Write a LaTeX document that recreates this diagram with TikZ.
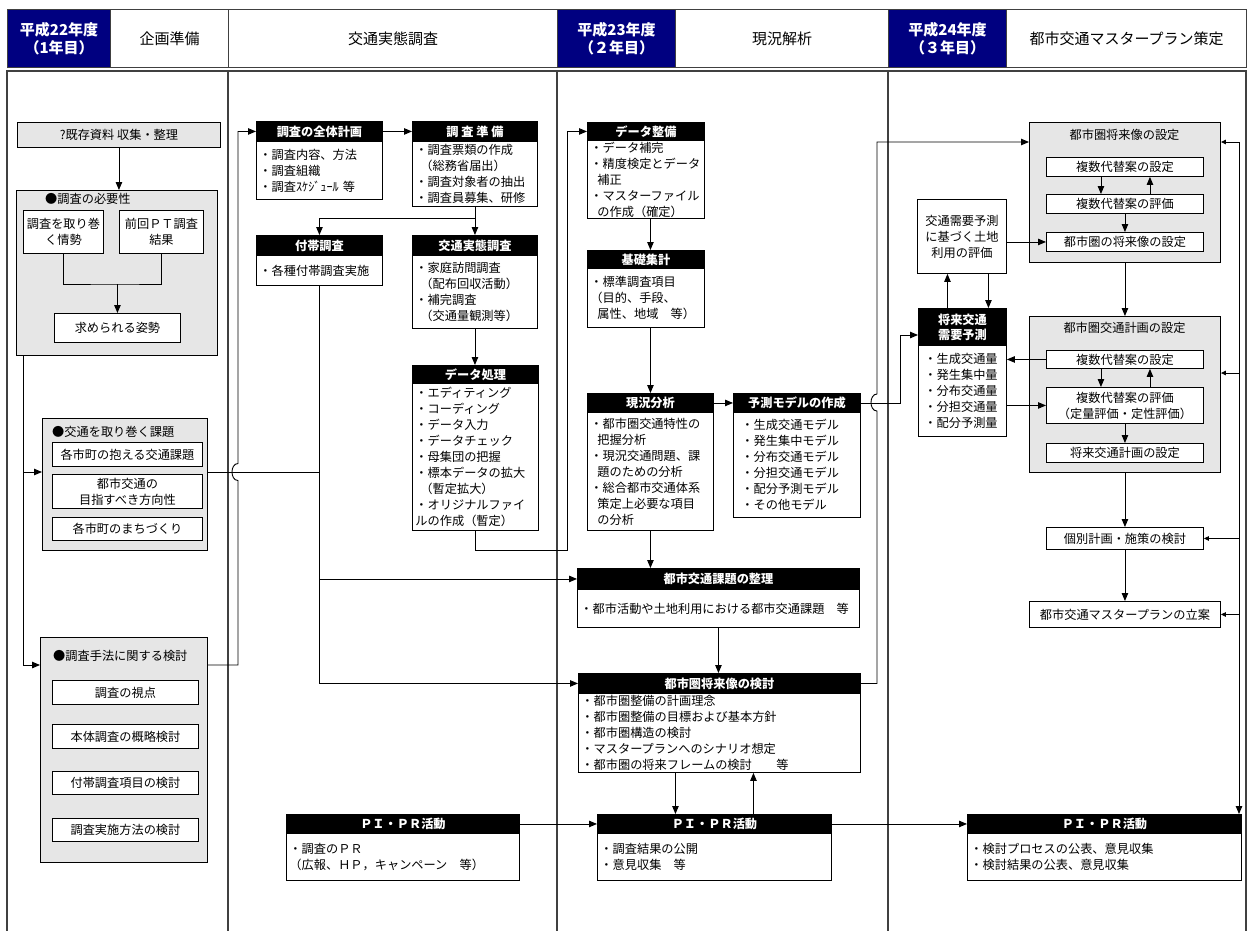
\documentclass[tikz,border=0pt]{standalone}
\usepackage{fontspec}
\setmainfont{Noto Sans CJK JP}
\usetikzlibrary{arrows.meta}
\definecolor{navyhd}{RGB}{0,0,128}
\definecolor{boxgray}{RGB}{230,230,230}
\definecolor{framec}{RGB}{64,64,64}
\newcommand\fA{\fontsize{12.2}{16}\selectfont}
\newcommand\fB{\fontsize{12.2}{15}\selectfont\bfseries}
\newcommand\fH{\fontsize{15}{17.5}\selectfont}
\newcommand\mkhdbox[8]{%
  \pgfmathsetlengthmacro\mytw{#4-6}%
  \node[hdr, minimum width=#4pt, minimum height=#5pt] (#1h) at (#2,#3) {#7};
  \node[bdy, text width=\mytw, minimum height=#6pt] (#1b) at (#2,#3+#5) {#8};
}
\tikzset{
  fr/.style={line width=1.3pt, draw=framec},
  hdn/.style={draw=framec, fill=navyhd, text=white, font=\fH\bfseries, minimum height=58pt, anchor=north west, inner sep=0pt, align=center, line width=1.2pt},
  hdw/.style={draw=framec, fill=white, font=\fH, minimum height=58pt, anchor=north west, inner sep=0pt, align=center, line width=1.2pt},
  bx/.style={draw, line width=0.9pt, anchor=north west, inner sep=0pt, align=center, font=\fA},
  gbx/.style={bx, fill=boxgray},
  wbx/.style={bx, fill=white},
  ttl/.style={anchor=west, inner sep=0pt, font=\fA},
  hdr/.style={draw, fill=black, text=white, line width=0.9pt, anchor=north west, inner sep=0pt, align=center, font=\fB},
  bdy/.style={draw, fill=white, line width=0.9pt, anchor=north west, inner xsep=3pt, inner ysep=0pt, align=left, font=\fA},
  arr/.style={-{Triangle[length=8pt,width=6.5pt]}, line width=0.9pt},
  sarr/.style={-{Triangle[length=5pt,width=4.5pt]}, line width=0.9pt},
  ln/.style={line width=0.9pt},
}
\begin{document}
\begin{tikzpicture}[x=1pt,y=-1pt]
\useasboundingbox (0,0) rectangle (1253,930);
% ---------- header ----------
\node[hdn, minimum width=103pt] (h1) at (7,9) {平成22年度\\（1年目）};
\node[hdw, minimum width=118pt] (h2) at (110,9) {企画準備};
\node[hdw, minimum width=329pt] (h3) at (228,9) {交通実態調査};
\node[hdn, minimum width=118pt] (h4) at (557,9) {平成23年度\\（２年目）};
\node[hdw, minimum width=213pt] (h5) at (675,9) {現況解析};
\node[hdn, minimum width=118pt] (h6) at (888,9) {平成24年度\\（３年目）};
\node[hdw, minimum width=240pt] (h7) at (1006,9) {都市交通マスタープラン策定};
% ---------- frame ----------
\draw[fr] (7,935) -- (7,71) -- (1246,71) -- (1246,935);
\foreach \xx in {228,557,888} \draw[fr] (\xx,71) -- (\xx,935);
% ---------- column 1 ----------
\node[gbx, minimum width=203pt, minimum height=25pt] (A) at (17,122) {?既存資料 収集・整理};
\node[gbx, minimum width=201pt, minimum height=165pt] (B) at (16,190) {};
\node[ttl] (Bt) at (45,199) {●調査の必要性};
\node[wbx, minimum width=80pt, minimum height=43pt] (B1) at (23,210) {調査を取り巻\\く情勢};
\node[wbx, minimum width=84pt, minimum height=43pt] (B2) at (119,210) {前回ＰＴ調査\\結果};
\node[wbx, minimum width=126pt, minimum height=29pt] (B3) at (54,313) {求められる姿勢};
\node[gbx, minimum width=165pt, minimum height=132pt] (C) at (42,418) {};
\node[ttl] (Ct) at (52,432) {●交通を取り巻く課題};
\node[wbx, minimum width=150pt, minimum height=24pt] (C1) at (52,442) {各市町の抱える交通課題};
\node[wbx, minimum width=150pt, minimum height=34pt] (C2) at (52,474) {都市交通の\\目指すべき方向性};
\node[wbx, minimum width=150pt, minimum height=23pt] (C3) at (52,517) {各市町のまちづくり};
\node[gbx, minimum width=167pt, minimum height=225pt] (D) at (40,637) {};
\node[ttl] (Dt) at (53,656) {●調査手法に関する検討};
\node[wbx, minimum width=146pt, minimum height=24pt] (D1) at (52,680) {調査の視点};
\node[wbx, minimum width=146pt, minimum height=24pt] (D2) at (52,724) {本体調査の概略検討};
\node[wbx, minimum width=146pt, minimum height=23pt] (D3) at (52,771) {付帯調査項目の検討};
\node[wbx, minimum width=146pt, minimum height=23pt] (D4) at (52,818) {調査実施方法の検討};
% ---------- column 2 ----------
\mkhdbox{P1}{256}{121}{126}{20}{58}{調査の全体計画}{・調査内容、方法\\・調査組織\\・調査ｽｹｼﾞｭｰﾙ 等}
\mkhdbox{P2}{412}{121}{125}{20}{65}{調 査 準 備}{・調査票類の作成\\\hspace*{5pt}（総務省届出）\\・調査対象者の抽出\\・調査員募集、研修}
\mkhdbox{P3}{256}{235}{126}{20}{30}{付帯調査}{・各種付帯調査実施}
\mkhdbox{P4}{412}{235}{125}{20}{73}{交通実態調査}{・家庭訪問調査\\\hspace*{5pt}（配布回収活動）\\・補完調査\\\hspace*{5pt}（交通量観測等）}
\mkhdbox{P5}{412}{365}{126}{18}{147}{データ処理}{・エディティング\\・コーディング\\・データ入力\\・データチェック\\・母集団の把握\\・標本データの拡大\\\hspace*{5pt}（暫定拡大）\\・オリジナルファイ\\ルの作成（暫定）}
% ---------- column 3 ----------
\mkhdbox{Q1}{587}{122}{117}{18}{78}{データ整備}{・データ補完\\・精度検定とデータ\\\hspace*{7pt}補正\\・マスターファイル\\\hspace*{7pt}の作成（確定）}
\mkhdbox{Q2}{587}{250}{117}{18}{59}{基礎集計}{・標準調査項目\\（目的、手段、\\\hspace*{7pt}属性、地域　等）}
\mkhdbox{Q3}{587}{393}{126}{19}{118}{現況分析}{・都市圏交通特性の\\\hspace*{7pt}把握分析\\・現況交通問題、課\\\hspace*{7pt}題のための分析\\・総合都市交通体系\\\hspace*{7pt}策定上必要な項目\\\hspace*{7pt}の分析}
\mkhdbox{Q4}{733}{393}{127}{19}{105}{予測モデルの作成}{\hspace*{5pt}・生成交通モデル\\\hspace*{5pt}・発生集中モデル\\\hspace*{5pt}・分布交通モデル\\\hspace*{5pt}・分担交通モデル\\\hspace*{5pt}・配分予測モデル\\\hspace*{5pt}・その他モデル}
\mkhdbox{Q5}{577}{568}{282}{21}{38}{都市交通課題の整理}{・都市活動や土地利用における都市交通課題　等}
\mkhdbox{Q6}{578}{673}{282}{20}{79}{都市圏将来像の検討}{・都市圏整備の計画理念\\・都市圏整備の目標および基本方針\\・都市圏構造の検討\\・マスタープランへのシナリオ想定\\・都市圏の将来フレームの検討　　等}
% ---------- PI PR ----------
\mkhdbox{R1}{286}{814}{233}{19}{47}{ＰＩ・ＰＲ活動}{・調査のＰＲ\\（広報、ＨＰ，キャンペーン　等）}
\mkhdbox{R2}{597}{814}{234}{19}{47}{ＰＩ・ＰＲ活動}{・調査結果の公開\\・意見収集　等}
\mkhdbox{R3}{967}{814}{274}{19}{47}{ＰＩ・ＰＲ活動}{・検討プロセスの公表、意見収集\\・検討結果の公表、意見収集}
% ---------- column 4 ----------
\node[gbx, minimum width=191pt, minimum height=140pt] (E) at (1029,122) {};
\node[font=\fA, inner sep=0pt] (Et) at (1124.5,135) {都市圏将来像の設定};
\node[wbx, minimum width=157pt, minimum height=19pt] (E1) at (1046,157) {複数代替案の設定};
\node[wbx, minimum width=157pt, minimum height=19pt] (E2) at (1046,194) {複数代替案の評価};
\node[wbx, minimum width=157pt, minimum height=19pt] (E3) at (1046,232) {都市圏の将来像の設定};
\node[wbx, minimum width=89pt, minimum height=74pt] (L) at (917,199) {交通需要予測\\に基づく土地\\利用の評価};
\mkhdbox{S}{918}{308}{88}{37}{91}{将来交通\\需要予測}{\hspace*{3pt}・生成交通量\\\hspace*{3pt}・発生集中量\\\hspace*{3pt}・分布交通量\\\hspace*{3pt}・分担交通量\\\hspace*{3pt}・配分予測量}
\node[gbx, minimum width=191pt, minimum height=156pt] (F) at (1029,316) {};
\node[font=\fA, inner sep=0pt] (Ft) at (1124.5,328) {都市圏交通計画の設定};
\node[wbx, minimum width=157pt, minimum height=18pt] (F1) at (1046,350) {複数代替案の設定};
\node[wbx, minimum width=157pt, minimum height=36pt] (F2) at (1046,387) {複数代替案の評価\\（定量評価・定性評価）};
\node[wbx, minimum width=157pt, minimum height=19pt] (F3) at (1046,443) {将来交通計画の設定};
\node[wbx, minimum width=157pt, minimum height=22pt] (G) at (1046,527) {個別計画・施策の検討};
\node[wbx, minimum width=191pt, minimum height=26pt] (H) at (1029,601) {都市交通マスタープランの立案};
% ---------- connectors: column 1 ----------
\draw[arr] (A.south) -- (A.south |- B.north);
\coordinate (j1) at ([yshift=29pt]B3.north);
\draw[ln] (B1.south) |- (j1) -| (B2.south);
\draw[arr] (j1) -- (B3.north);
\coordinate (b0) at ([xshift=7pt]B.south west);
\coordinate (c0) at ([yshift=-54pt]C.north west);
\coordinate (d0) at ([yshift=-28pt]D.north west);
\draw[arr] (b0) |- (d0);
\draw[arr] (b0 |- c0) -- (c0);
\coordinate (c1) at ([yshift=-54pt]C.north east);
\draw[ln] (c1) -- (c1 -| P3b.south);
\coordinate (d1) at ([yshift=-28pt]D.north east);
\coordinate (v1) at (238,665);
\coordinate (v2) at (238,480.5);
\coordinate (v3) at (238,463.5);
\draw[arr] (d1) -- (v1) -- (v2) .. controls (230,480.5) and (230,463.5) .. (v3) |- (P1h.west);
% ---------- column 2 ----------
\draw[arr] (P1h.east) -- (P2h.west);
\coordinate (j2) at ([yshift=-12pt]P2b.south);
\draw[ln] (P2b.south) -- (j2);
\draw[arr] (j2) -- (j2 |- P4h.north);
\draw[arr] (j2) -| (P3h.north);
\draw[arr] (P4b.south) -- (P4b.south |- P5h.north);
\draw[arr] (P3b.south) |- (Q6h.west);
\draw[arr] (P3b.south |- Q5h.west) -- (Q5h.west);
\coordinate (k1) at (567,550);
\draw[arr] (P5b.south) |- (k1) |- (Q1h.west);
% ---------- column 3 ----------
\draw[arr] (Q1b.south -| Q3h.north) -- (Q2h.north -| Q3h.north);
\draw[arr] (Q2b.south -| Q3h.north) -- (Q3h.north);
\draw[arr] (Q3h.east) -- (Q4h.west);
\draw[arr] (Q3b.south) -- (Q3b.south |- Q5h.north);
\draw[arr] (Q5b.south) -- (Q5b.south |- Q6h.north);
\coordinate (m1) at (Q4h.east -| 900,0);
\coordinate (m2) at ([yshift=-27pt]Sh.north west);
\draw[arr] (Q4h.east) -- (m1) |- (m2);
\coordinate (n1) at (Q6h.east -| 877,0);
\coordinate (e0) at ([yshift=-20pt]E.north west);
\draw[arr] (Q6h.east) -- (n1) -- (877,411) .. controls (869,411) and (869,394) .. (877,394) |- (e0);
\coordinate (q6a) at ([xshift=-44pt]Q6b.south);
\coordinate (q6b) at ([xshift=34pt]Q6b.south);
\draw[arr] (q6a) -- (q6a |- R2h.north);
\draw[arr] (q6b |- R2h.north) -- (q6b);
\draw[arr] (R1h.east) -- (R2h.west);
\draw[arr] (R2h.east) -- (R3h.west);
% ---------- column 4 ----------
\coordinate (ea) at ([xshift=-24pt]E1.south);
\coordinate (eb) at ([xshift=25pt]E1.south);
\draw[arr] (ea) -- (ea |- E2.north);
\draw[arr] (eb |- E2.north) -- (eb);
\draw[arr] (E2.south) -- (E3.north);
\draw[arr] (L.east |- E3.west) -- (E3.west);
\coordinate (sa) at ([xshift=-15pt]Sh.north);
\coordinate (sb) at ([xshift=26pt]Sh.north);
\draw[arr] (sa) -- (sa |- L.south);
\draw[arr] (sb |- L.south) -- (sb);
\draw[arr] (E.south) -- (E.south |- F.north);
\draw[arr] (F1.west) -- (F1.west -| Sb.east);
\draw[arr] (Sb.east |- F2.west) -- (F2.west);
\coordinate (fa) at ([xshift=-24pt]F1.south);
\coordinate (fb) at ([xshift=25pt]F1.south);
\draw[arr] (fa) -- (fa |- F2.north);
\draw[arr] (fb |- F2.north) -- (fb);
\draw[arr] (F2.south) -- (F3.north);
\draw[arr] (F.south) -- (F.south |- G.north);
\draw[arr] (G.south) -- (G.south |- H.north);
\coordinate (rt) at (1239,142);
\coordinate (f9) at ([yshift=-57pt]F.north east);
\draw[arr] (rt) -- (rt |- R3h.north);
\draw[sarr] (rt) -- (rt -| E.east);
\draw[sarr] (rt |- f9) -- (f9);
\draw[sarr] (rt |- G.east) -- (G.east);
\draw[sarr] (rt |- H.east) -- (H.east);
\end{tikzpicture}
\end{document}
